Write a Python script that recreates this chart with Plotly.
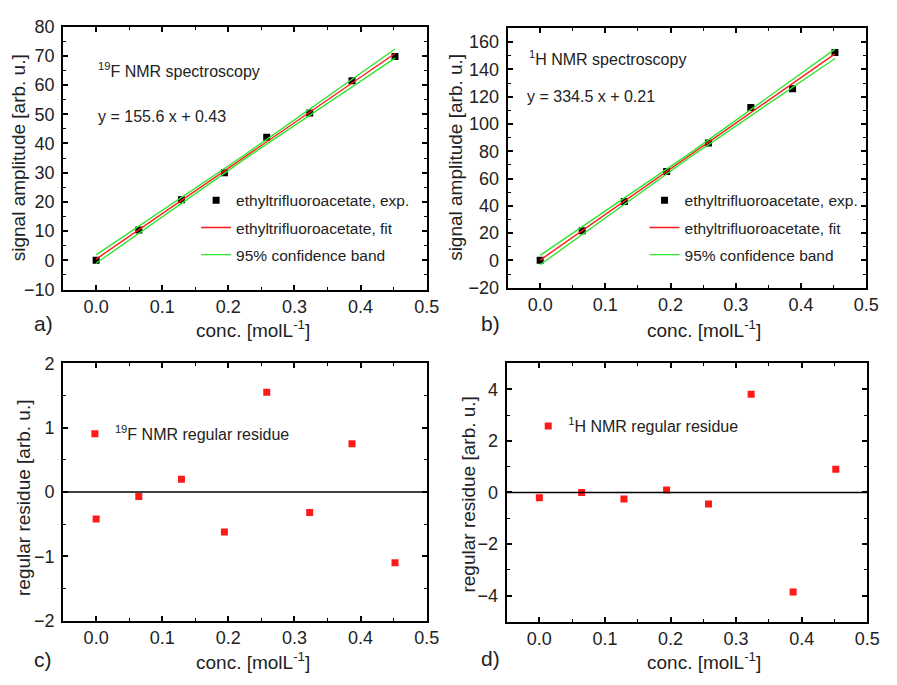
import plotly.graph_objects as go

# ---------------- data ----------------
conc = [0.0, 0.0645, 0.129, 0.194, 0.258, 0.323, 0.387, 0.452]

F_amp = [0.0, 10.4, 20.7, 30.0, 42.1, 50.4, 61.4, 69.7]
H_amp = [0.0, 21.8, 43.1, 65.2, 86.0, 112.0, 125.8, 152.3]

F_res = [-0.42, -0.07, 0.20, -0.62, 1.55, -0.32, 0.75, -1.10]
H_res = [-0.20, 0.00, -0.25, 0.10, -0.45, 3.80, -3.85, 0.90]

fit_x = [0.0, 0.452]
F_fit = [0.43, 70.76]
H_fit = [0.21, 151.4]

band_x = [0.0, 0.226, 0.452]
F_upper = [1.9, 36.3, 72.3]
F_lower = [-1.0, 34.9, 69.2]
H_upper = [3.7, 77.3, 154.8]
H_lower = [-3.2, 74.3, 148.0]

x_ticks = [0.0, 0.1, 0.2, 0.3, 0.4, 0.5]
ya_ticks = [-10, 0, 10, 20, 30, 40, 50, 60, 70, 80]
yb_ticks = [-20, 0, 20, 40, 60, 80, 100, 120, 140, 160]
yc_ticks = [-2, -1, 0, 1, 2]
yd_ticks = [-4, -2, 0, 2, 4]

# ---------------- style ----------------
FONT = "Liberation Sans, Arial, sans-serif"
TXT = "#222222"
RED = "#ff1a1a"
GREEN = "#2ee62e"
W, H = 897, 685

def px(x):
    return x / W

def py(y):
    return 1 - y / H

fig = go.Figure()

# panel a
fig.add_trace(go.Scatter(x=conc, y=F_amp, mode="markers",
                         marker=dict(symbol="square", color="black", size=7),
                         name="ethyltrifluoroacetate, exp.", legend="legend", legendgroup="a1",
                         xaxis="x", yaxis="y"))
fig.add_trace(go.Scatter(x=fit_x, y=F_fit, mode="lines", line=dict(color=RED, width=1.4),
                         name="ethyltrifluoroacetate, fit", legend="legend", legendgroup="a2",
                         xaxis="x", yaxis="y"))
fig.add_trace(go.Scatter(x=band_x, y=F_upper, mode="lines", line=dict(color=GREEN, width=1.4),
                         name="95% confidence band", legend="legend", legendgroup="a3",
                         xaxis="x", yaxis="y"))
fig.add_trace(go.Scatter(x=band_x, y=F_lower, mode="lines", line=dict(color=GREEN, width=1.4),
                         showlegend=False, legendgroup="a3", xaxis="x", yaxis="y"))

# panel b
fig.add_trace(go.Scatter(x=conc, y=H_amp, mode="markers",
                         marker=dict(symbol="square", color="black", size=7),
                         name="ethyltrifluoroacetate, exp.", legend="legend2", legendgroup="b1",
                         xaxis="x2", yaxis="y2"))
fig.add_trace(go.Scatter(x=fit_x, y=H_fit, mode="lines", line=dict(color=RED, width=1.4),
                         name="ethyltrifluoroacetate, fit", legend="legend2", legendgroup="b2",
                         xaxis="x2", yaxis="y2"))
fig.add_trace(go.Scatter(x=band_x, y=H_upper, mode="lines", line=dict(color=GREEN, width=1.4),
                         name="95% confidence band", legend="legend2", legendgroup="b3",
                         xaxis="x2", yaxis="y2"))
fig.add_trace(go.Scatter(x=band_x, y=H_lower, mode="lines", line=dict(color=GREEN, width=1.4),
                         showlegend=False, legendgroup="b3", xaxis="x2", yaxis="y2"))

# panel c
fig.add_trace(go.Scatter(x=conc, y=F_res, mode="markers",
                         marker=dict(symbol="square", color=RED, size=7),
                         name="<sup>19</sup>F NMR regular residue", legend="legend3",
                         xaxis="x3", yaxis="y3"))
# panel d
fig.add_trace(go.Scatter(x=conc, y=H_res, mode="markers",
                         marker=dict(symbol="square", color=RED, size=7),
                         name="<sup>1</sup>H NMR regular residue", legend="legend4",
                         xaxis="x4", yaxis="y4"))

def xax(domain, anchor):
    return dict(domain=domain, anchor=anchor, range=[-0.05, 0.5], tickvals=x_ticks,
                ticktext=[f"{v:.1f}" for v in x_ticks],
                ticks="inside", ticklen=5, tickwidth=1.5, tickcolor="black",
                minor=dict(dtick=0.05, tick0=0, ticks="inside", ticklen=3, tickwidth=1.2, tickcolor="black"),
                showline=True, linewidth=2, linecolor="black", mirror="ticks",
                showgrid=False, zeroline=False,
                tickfont=dict(family=FONT, size=18, color=TXT))

def yax(domain, anchor, rng, tv, mdt):
    return dict(domain=domain, anchor=anchor, range=rng, tickvals=tv,
                ticks="inside", ticklen=5, tickwidth=1.5, tickcolor="black",
                minor=dict(dtick=mdt, tick0=0, ticks="inside", ticklen=3, tickwidth=1.2, tickcolor="black"),
                showline=True, linewidth=2, linecolor="black", mirror="ticks",
                showgrid=False, zeroline=False, ticklabelstandoff=3,
                tickfont=dict(family=FONT, size=18, color=TXT))

xa_dom = [px(64), px(433)]
xb_dom = [px(515), px(879)]
xc_dom = [px(64), px(433)]
xd_dom = [px(514), px(880)]
ya_dom = [py(288), py(17)]
yb_dom = [py(286), py(19)]
yc_dom = [py(629), py(364)]
yd_dom = [py(630), py(364)]

def legend_at(x, y, size=16, gap=0):
    return dict(x=px(x), y=py(y), xanchor="left", yanchor="top", bgcolor="rgba(0,0,0,0)",
                font=dict(family=FONT, size=size, color=TXT), traceorder="grouped",
                tracegroupgap=gap, itemwidth=30)

fig.update_layout(
    width=W, height=H, margin=dict(l=0, r=0, t=0, b=0),
    paper_bgcolor="white", plot_bgcolor="white",
    font=dict(family=FONT, color=TXT),
    xaxis=xax(xa_dom, "y"),
    yaxis=yax(ya_dom, "x", [-10, 80], ya_ticks, 5),
    xaxis2=xax(xb_dom, "y2"),
    yaxis2=yax(yb_dom, "x2", [-20, 170], yb_ticks, 10),
    xaxis3=xax(xc_dom, "y3"),
    yaxis3=yax(yc_dom, "x3", [-2, 2], yc_ticks, 0.5),
    xaxis4=xax(xd_dom, "y4"),
    yaxis4=yax(yd_dom, "x4", [-5, 5], yd_ticks, 1),
    legend=legend_at(199, 179, size=15.5, gap=4),
    legend2=legend_at(654, 179, size=15.5, gap=4),
    legend3=legend_at(76, 419),
    legend4=legend_at(536, 411),
    showlegend=True,
)

# zero lines in residue panels
for xr, yr in (("x3 domain", "y3"), ("x4 domain", "y4")):
    fig.add_shape(type="line", xref=xr, yref=yr, x0=0, x1=1, y0=0, y1=0,
                  line=dict(color="black", width=1.5))

def ann(text, x, y, size=16, xanchor="left", textangle=0, yanchor="middle"):
    fig.add_annotation(text=text, x=px(x), y=py(y), xref="paper", yref="paper",
                       showarrow=False, xanchor=xanchor, yanchor=yanchor, textangle=textangle,
                       font=dict(family=FONT, size=size, color=TXT))

# in-plot texts
ann("<sup>19</sup>F NMR spectroscopy", 97, 62)
ann("y = 155.6 x + 0.43", 97, 110)
ann("<sup>1</sup>H NMR spectroscopy", 535, 49)
ann("y = 334.5 x + 0.21", 533, 89)

# axis titles
ylab = "signal amplitude [arb. u.]"
rlab = "regular residue [arb. u.]"
xlab = "conc. [molL<sup>-1</sup>]"
ann(ylab, 19, 152, size=19, xanchor="center", textangle=-90)
ann(ylab, 462, 152, size=19, xanchor="center", textangle=-90)
ann(rlab, 24, 503, size=19, xanchor="center", textangle=-90)
ann(rlab, 475, 499, size=19, xanchor="center", textangle=-90)
ann(xlab, 257, 343, size=19, xanchor="center", yanchor="bottom")
ann(xlab, 714, 343, size=19, xanchor="center", yanchor="bottom")
ann(xlab, 257, 685, size=19, xanchor="center", yanchor="bottom")
ann(xlab, 714, 685, size=19, xanchor="center", yanchor="bottom")

# panel letters
ann("a)", 44, 323, size=21, xanchor="center")
ann("b)", 498, 323, size=21, xanchor="center")
ann("c)", 44, 669, size=21, xanchor="center")
ann("d)", 498, 668, size=21, xanchor="center")

fig.write_html("out.html")
